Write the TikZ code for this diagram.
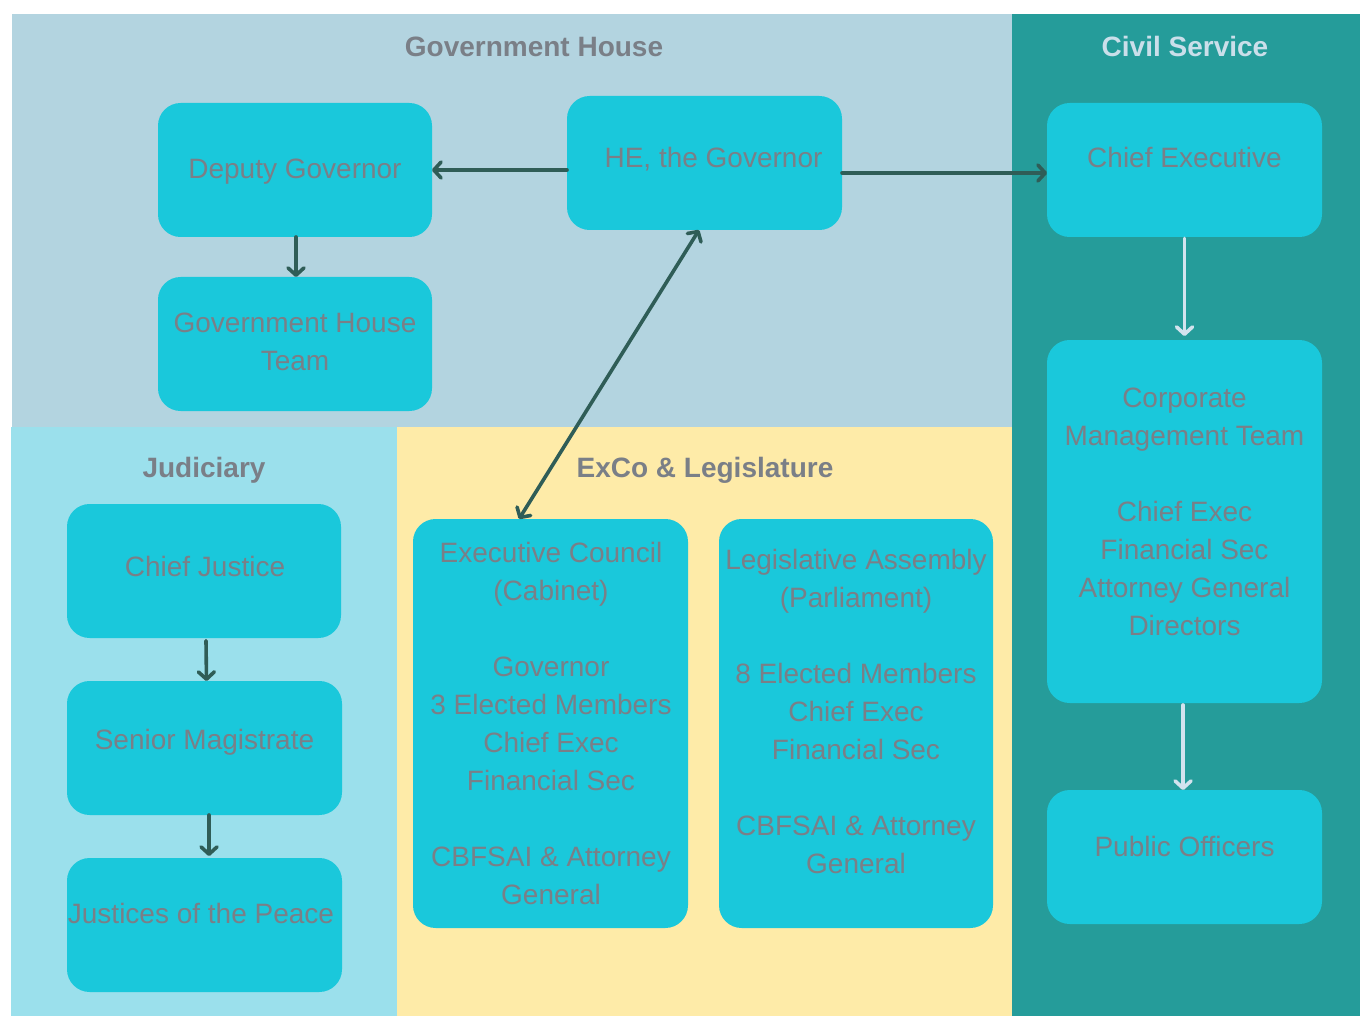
\documentclass[tikz,border=0pt]{standalone}
\usepackage{fontspec}
\setmainfont{Liberation Sans}
\usetikzlibrary{arrows.meta}
\definecolor{ghbg}{HTML}{B3D4E0}
\definecolor{csbg}{HTML}{259C9A}
\definecolor{jubg}{HTML}{9BE0EC}
\definecolor{exbg}{HTML}{FEEBA8}
\definecolor{boxc}{HTML}{1AC8DB}
\definecolor{txtc}{HTML}{7A7F87}
\definecolor{cstitle}{HTML}{CADFEA}
\definecolor{darkarrow}{HTML}{2F5D57}
\definecolor{lightarrow}{HTML}{D3E3EE}
\tikzset{
  panel/.style={fill=#1, draw=none},
  box/.style 2 args={fill=boxc, draw=none, rounded corners=17pt, inner sep=0pt, outer sep=0pt,
    minimum width=#1*0.75pt, minimum height=#2*0.75pt},
  btext/.style={inner sep=0pt, align=center, text=txtc, yshift=-2.25pt, font=\fontsize{21}{28.5}\selectfont},
  ttext/.style={inner sep=0pt, align=center, text=txtc, yshift=-1.8pt, font=\fontsize{21}{28.5}\selectfont\bfseries},
  darr/.style={draw=darkarrow, line width=2.7pt, line cap=round,
    -{Straight Barb[length=5.5pt,width=12pt,line cap=round,line join=round]}},
  ddarr/.style={draw=darkarrow, line width=2.7pt, line cap=round,
    {Straight Barb[length=5.5pt,width=12pt,line cap=round,line join=round]}-{Straight Barb[length=5.5pt,width=12pt,line cap=round,line join=round]}},
  larr/.style={draw=lightarrow, line width=2.7pt, line cap=round,
    -{Straight Barb[length=5.5pt,width=12pt,line cap=round,line join=round]}}
}
\begin{document}
\begin{tikzpicture}[x=0.75pt,y=-0.75pt]
\useasboundingbox (0,0) rectangle (1360,1016);
% panels
\fill[panel=ghbg] (12,14) rectangle (1012,427);
\fill[panel=csbg] (1012,14) rectangle (1360,1016);
\fill[panel=jubg] (11,427) rectangle (397,1016);
\fill[panel=exbg] (397,427) rectangle (1012,1016);
% titles
\node[ttext] (tgh) at (534,44) {Government House};
\node[ttext, text=cstitle] (tcs) at (1185,44) {Civil Service};
\node[ttext] (tju) at (204,468) {Judiciary};
\node[ttext] (tex) at (705,468) {ExCo \& Legislature};
% boxes
\node[box={274}{134}] (dg) at (295,170) {};
\node[box={274}{134}] (ght) at (295,344) {};
\node[box={275}{134}] (he) at (704.5,163) {};
\node[box={275}{134}] (ce) at (1184.5,170) {};
\node[box={275}{363}] (cmt) at (1184.5,521.5) {};
\node[box={275}{134}] (po) at (1184.5,857) {};
\node[box={274}{134}] (cj) at (204,571) {};
\node[box={275}{134}] (sm) at (204.5,748) {};
\node[box={275}{134}] (jp) at (204.5,925) {};
\node[box={275}{409}] (ec) at (550.5,723.5) {};
\node[box={274}{409}] (la) at (856,723.5) {};
% texts
\node[btext] (dgT) at (295,168) {\strut Deputy Governor};
\node[btext] (ghtT) at (295,341) {\strut Government House\\\strut Team};
\node[btext] (heT) at (713.5,157) {\strut HE, the Governor};
\node[btext] (ceT) at (1184.5,157) {\strut Chief Executive};
\node[btext] (cmtT) at (1184.5,511) {\strut Corporate\\\strut Management Team\\\strut\\\strut Chief Exec\\\strut Financial Sec\\\strut Attorney General\\\strut Directors};
\node[btext] (poT) at (1184.5,846) {\strut Public Officers};
\node[btext] (cjT) at (205,566) {\strut Chief Justice};
\node[btext] (smT) at (204.5,739) {\strut Senior Magistrate};
\node[btext] (jpT) at (201,913) {\strut Justices of the Peace};
\node[btext] (ecT) at (551,723) {\strut Executive Council\\\strut (Cabinet)\\\strut\\\strut Governor\\\strut 3 Elected Members\\\strut Chief Exec\\\strut Financial Sec\\\strut\\\strut CBFSAI \& Attorney\\\strut General};
\node[btext] (laT) at (856,711) {\strut Legislative Assembly\\\strut (Parliament)\\\strut\\\strut 8 Elected Members\\\strut Chief Exec\\\strut Financial Sec\\\strut\\\strut CBFSAI \& Attorney\\\strut General};
% connectors
\draw[darr] (he.west |- dg.east) -- (dg.east);
\draw[darr] ([yshift=-2.25pt]he.east |- ce.west) -- ([yshift=-2.25pt]ce.west);
\draw[darr] ([xshift=0.75pt]dg.south) -- ([xshift=0.75pt]ght.north);
\draw[ddarr] ([xshift=-4.1pt]he.south) -- ([xshift=-23.6pt]ec.north);
\draw[darr] ([xshift=1.5pt,yshift=-2pt]cj.south) -- ([xshift=1.5pt]sm.north);
\draw[darr] ([xshift=3.4pt]sm.south) -- ([xshift=3.4pt,yshift=1.5pt]jp.north);
\draw[larr] ([yshift=-1pt]ce.south) -- ([yshift=3pt]cmt.north);
\draw[larr] ([xshift=-1.1pt,yshift=-1.5pt]cmt.south) -- ([xshift=-1.1pt]po.north);
\end{tikzpicture}
\end{document}
